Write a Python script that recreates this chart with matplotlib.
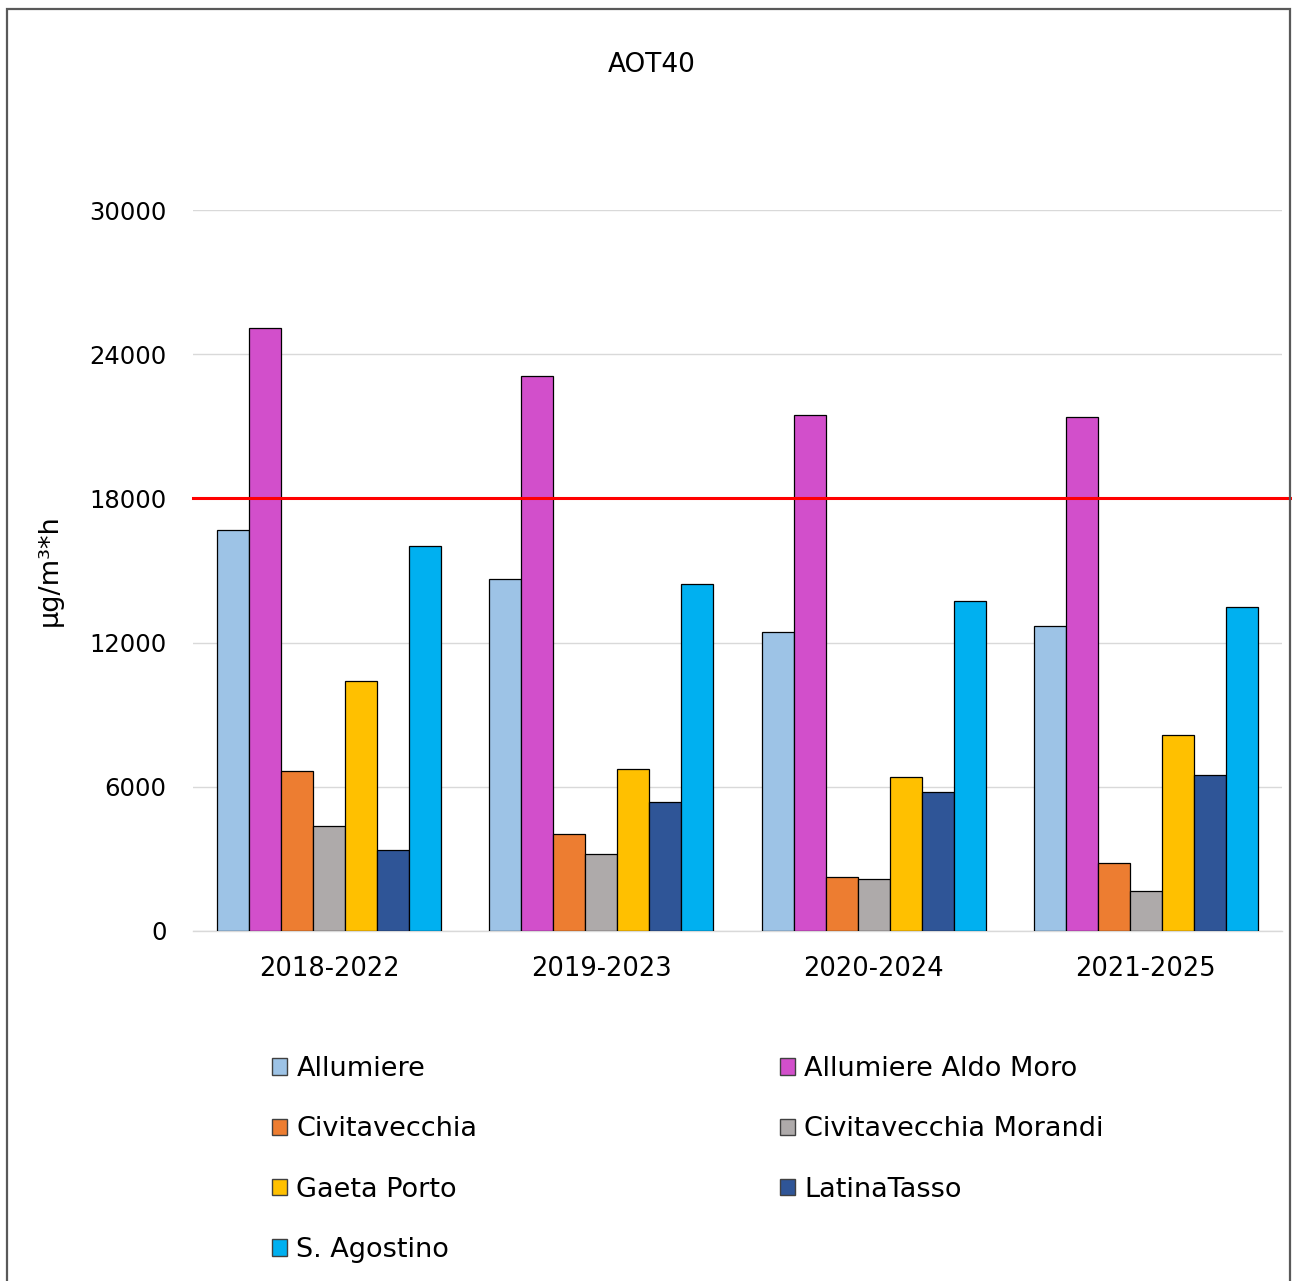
import numpy as np
import matplotlib
matplotlib.use("Agg")
import matplotlib.pyplot as plt
from matplotlib.patches import Rectangle

# Data
periods = ["2018-2022", "2019-2023", "2020-2024", "2021-2025"]
stations = ["Allumiere", "Allumiere Aldo Moro", "Civitavecchia",
            "Civitavecchia Morandi", "Gaeta Porto", "LatinaTasso", "S. Agostino"]
allumiere = [16700, 14650, 12450, 12700]
aldo_moro = [25100, 23100, 21450, 21400]
civitavecchia = [6650, 4050, 2250, 2850]
morandi = [4350, 3200, 2150, 1650]
gaeta = [10400, 6750, 6400, 8150]
latina = [3350, 5350, 5800, 6500]
agostino = [16000, 14450, 13750, 13500]
threshold = 18000
yticks = [0, 6000, 12000, 18000, 24000, 30000]

series = [allumiere, aldo_moro, civitavecchia, morandi, gaeta, latina, agostino]
colors = ["#9DC3E6", "#D24FCB", "#ED7D31", "#AEAAAA", "#FFC000", "#2F5597", "#00B0F0"]

plt.rcParams["font.family"] = "DejaVu Sans"

fig = plt.figure(figsize=(12.92, 12.81), dpi=100)
ax = fig.add_axes([193 / 1292, 1 - 931 / 1281, (1282 - 193) / 1292, (931 - 210) / 1281])

x = np.arange(len(periods))
n = len(series)
bw = 0.1176
handles = []
for i, (vals, col) in enumerate(zip(series, colors)):
    b = ax.bar(x + (i - (n - 1) / 2) * bw, vals, bw, color=col,
               edgecolor="black", linewidth=0.9, label=stations[i], zorder=3)
    handles.append(b)

ax.set_xlim(-0.5, len(periods) - 0.5)
ax.set_ylim(0, 30000)
ax.set_yticks(yticks)
ax.set_yticklabels([str(v) for v in yticks], fontsize=17.5)
ax.set_xticks(x)
ax.set_xticklabels(periods, fontsize=18.5)
ax.tick_params(axis="x", length=0, pad=18)
ax.tick_params(axis="y", length=0, pad=19)
ax.grid(axis="y", color="#D9D9D9", lw=1.0, zorder=0)
for s in ["top", "right", "left"]:
    ax.spines[s].set_visible(False)
ax.spines["bottom"].set_color("#D9D9D9")
ax.spines["bottom"].set_linewidth(1.0)
ax.set_ylabel("µg/m³*h", fontsize=19.5, labelpad=19)

# threshold line extends to the chart frame
x_right = (1290 - 193) / 272.25 - 0.5
ax.plot([-0.5, x_right], [threshold, threshold], color="#FF0000", lw=2.2,
        clip_on=False, zorder=4)

fig.text(652 / 1292, 1 - 65 / 1281, "AOT40", ha="center", va="center", fontsize=19)

# chart frame
fig.add_artist(Rectangle((7 / 1292, -0.02), (1290 - 7) / 1292, 1 - 9 / 1281 + 0.02,
                         transform=fig.transFigure, fill=False,
                         edgecolor="#595959", lw=1.6))

# legend in two columns, filled row by row
kw = dict(fontsize=19.5, frameon=False, handlelength=0.56, handleheight=0.56,
          handletextpad=0.34, labelspacing=1.27, borderaxespad=0, borderpad=0)
leg1 = fig.legend([handles[i] for i in (0, 2, 4, 6)],
                  [stations[i] for i in (0, 2, 4, 6)],
                  loc="upper left", bbox_to_anchor=(272 / 1292, 1 - 1056 / 1281), **kw)
leg2 = fig.legend([handles[i] for i in (1, 3, 5)],
                  [stations[i] for i in (1, 3, 5)],
                  loc="upper left", bbox_to_anchor=(780 / 1292, 1 - 1056 / 1281), **kw)
for leg in (leg1, leg2):
    for h in leg.legend_handles:
        h.set_edgecolor("#404040")
        h.set_linewidth(1.0)

fig.savefig("out.png", dpi=100)
